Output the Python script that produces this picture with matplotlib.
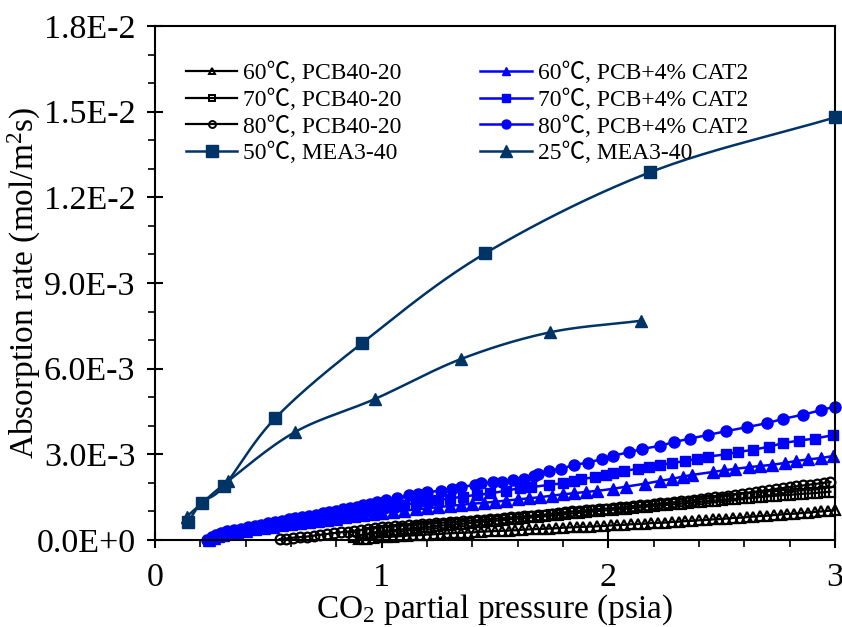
import numpy as np
import matplotlib
matplotlib.use("Agg")
import matplotlib.pyplot as plt
from matplotlib.ticker import FixedLocator, MultipleLocator
from matplotlib.lines import Line2D

plt.rcParams['font.family'] = ['Liberation Serif', 'Noto Sans CJK SC', 'DejaVu Serif']
plt.rcParams['mathtext.fontset'] = 'custom'
plt.rcParams['mathtext.rm'] = 'Liberation Serif'
plt.rcParams['mathtext.it'] = 'Liberation Serif:italic'

# ---------------- data (y in units of 1E-3 mol/m2s) ----------------
pcb_60_x = [0.90,0.93,0.96,0.99,1.02,1.05,1.08,1.11,1.14,1.17,1.20,1.23,1.26,1.29,1.32,1.35,1.38,1.41,1.44,1.47,
            1.50,1.53,1.56,1.59,1.62,1.65,1.68,1.71,1.74,1.77,1.80,1.83,1.86,1.89,1.92,1.95,1.98,2.01,2.04,2.07,
            2.10,2.13,2.16,2.19,2.22,2.25,2.28,2.31,2.34,2.37,2.40,2.43,2.46,2.49,2.52,2.55,2.58,2.61,2.64,2.67,
            2.70,2.73,2.76,2.79,2.82,2.85,2.88,2.91,2.94,2.97,3.00]
pcb_60_y = [0.03,0.05,0.07,0.09,0.10,0.12,0.13,0.15,0.16,0.17,0.19,0.20,0.21,0.23,0.24,0.25,0.26,0.27,0.29,0.30,
            0.31,0.32,0.33,0.34,0.36,0.37,0.38,0.39,0.40,0.41,0.43,0.44,0.45,0.46,0.47,0.48,0.49,0.51,0.52,0.53,
            0.55,0.56,0.57,0.59,0.60,0.61,0.63,0.64,0.66,0.67,0.69,0.70,0.72,0.73,0.75,0.77,0.78,0.80,0.82,0.84,
            0.85,0.87,0.89,0.91,0.92,0.94,0.96,0.98,1.00,1.02,1.04]

pcb_70_x = [0.88,0.91,0.94,0.97,1.00,1.03,1.06,1.09,1.12,1.15,1.18,1.21,1.24,1.27,1.30,1.33,1.36,1.39,1.42,1.45,
            1.48,1.51,1.54,1.57,1.60,1.63,1.66,1.69,1.72,1.75,1.78,1.81,1.84,1.87,1.90,1.93,1.96,1.99,2.02,2.05,
            2.08,2.11,2.14,2.17,2.20,2.23,2.26,2.29,2.32,2.35,2.38,2.41,2.44,2.47,2.50,2.53,2.56,2.59,2.62,2.65,
            2.68,2.71,2.74,2.77,2.80,2.83,2.86,2.89,2.92,2.95,2.98]
pcb_70_y = [0.12,0.18,0.23,0.27,0.30,0.33,0.35,0.37,0.40,0.42,0.44,0.46,0.49,0.51,0.53,0.55,0.57,0.59,0.62,0.64,
            0.66,0.68,0.70,0.73,0.75,0.77,0.79,0.81,0.83,0.86,0.88,0.90,0.93,0.95,0.98,1.00,1.02,1.04,1.06,1.08,
            1.10,1.12,1.14,1.17,1.19,1.21,1.23,1.25,1.27,1.29,1.32,1.34,1.36,1.38,1.40,1.42,1.44,1.46,1.48,1.49,
            1.51,1.53,1.55,1.57,1.58,1.60,1.62,1.63,1.65,1.67,1.69]

pcb_80_x = [0.55,0.58,0.61,0.64,0.67,0.70,0.73,0.76,0.79,0.82,0.85,0.88,0.91,0.94,0.97,1.00,1.03,1.06,1.09,1.12,
            1.15,1.18,1.21,1.24,1.27,1.30,1.33,1.36,1.39,1.42,1.45,1.48,1.51,1.54,1.57,1.60,1.63,1.66,1.69,1.72,
            1.75,1.78,1.81,1.84,1.87,1.90,1.93,1.96,1.99,2.02,2.05,2.08,2.11,2.14,2.17,2.20,2.23,2.26,2.29,2.32,
            2.35,2.38,2.41,2.44,2.47,2.50,2.53,2.56,2.59,2.62,2.65,2.68,2.71,2.74,2.77,2.80,2.83,2.86,2.89,2.92,
            2.95,2.98]
pcb_80_y = [0.03,0.05,0.08,0.10,0.12,0.15,0.18,0.21,0.24,0.27,0.29,0.32,0.35,0.38,0.41,0.44,0.46,0.48,0.50,0.51,
            0.53,0.55,0.57,0.59,0.61,0.62,0.64,0.66,0.68,0.69,0.71,0.73,0.75,0.77,0.79,0.81,0.83,0.85,0.87,0.89,
            0.92,0.95,0.97,1.00,1.02,1.04,1.06,1.08,1.10,1.12,1.14,1.17,1.19,1.21,1.23,1.25,1.28,1.30,1.32,1.35,
            1.37,1.40,1.43,1.46,1.49,1.52,1.55,1.59,1.62,1.66,1.69,1.72,1.75,1.79,1.82,1.85,1.88,1.91,1.94,1.97,
            2.00,2.03]

cat_60_x = [0.24,0.26,0.28,0.30,0.33,0.36,0.40,0.44,0.48,0.52,0.56,0.60,0.64,0.68,0.72,0.76,0.80,0.84,0.88,
            0.92,0.96,1.00,1.05,1.10,1.15,1.20,1.25,1.30,1.35,1.40,1.45,1.50,1.55,1.60,1.65,1.70,1.75,1.80,
            1.85,1.90,1.95,2.02,2.08,2.16,2.23,2.28,2.33,2.37,2.46,2.51,2.56,2.62,2.67,2.72,2.78,2.83,2.88,
            2.94,2.99]
cat_60_y = [0.00,0.08,0.14,0.19,0.24,0.28,0.33,0.38,0.42,0.47,0.51,0.55,0.59,0.63,0.67,0.71,0.75,0.79,0.83,
            0.87,0.91,0.95,0.99,1.03,1.07,1.11,1.15,1.19,1.23,1.27,1.30,1.34,1.38,1.42,1.46,1.50,1.55,1.60,
            1.64,1.68,1.72,1.79,1.87,1.97,2.07,2.14,2.22,2.28,2.38,2.44,2.49,2.55,2.59,2.63,2.70,2.77,2.82,
            2.87,2.94]

cat_70_x = [0.24,0.26,0.28,0.30,0.33,0.36,0.40,0.44,0.48,0.52,0.56,0.60,0.64,0.68,0.72,0.76,0.80,0.84,0.88,
            0.92,0.96,1.00,1.05,1.10,1.15,1.20,1.25,1.30,1.36,1.42,1.48,1.55,1.61,1.66,1.74,1.80,1.85,1.88,
            1.94,1.99,2.02,2.07,2.13,2.18,2.23,2.28,2.34,2.39,2.44,2.52,2.57,2.64,2.71,2.77,2.84,2.91,2.99]
cat_70_y = [0.00,0.10,0.17,0.22,0.27,0.31,0.36,0.41,0.46,0.51,0.56,0.61,0.66,0.71,0.76,0.81,0.86,0.91,0.96,
            1.01,1.06,1.11,1.17,1.23,1.29,1.35,1.40,1.45,1.52,1.58,1.63,1.73,1.81,1.85,1.93,1.99,2.07,2.13,
            2.20,2.27,2.33,2.42,2.49,2.55,2.63,2.69,2.77,2.84,2.92,3.00,3.08,3.16,3.27,3.39,3.48,3.55,3.67]

cat_80_x = [0.23,0.25,0.27,0.29,0.32,0.35,0.38,0.41,0.44,0.47,0.50,0.53,0.56,0.59,0.62,0.65,0.68,0.71,0.74,
            0.77,0.80,0.83,0.86,0.89,0.92,0.95,0.98,1.02,1.07,1.12,1.16,1.20,1.26,1.31,1.35,1.41,1.44,1.49,
            1.53,1.58,1.63,1.67,1.69,1.74,1.79,1.85,1.91,1.97,2.02,2.09,2.15,2.23,2.29,2.36,2.44,2.52,2.61,
            2.70,2.77,2.86,2.94,3.00]
cat_80_y = [0.00,0.10,0.18,0.24,0.30,0.35,0.40,0.45,0.50,0.54,0.59,0.63,0.67,0.72,0.76,0.80,0.85,0.89,0.93,
            0.98,1.02,1.07,1.12,1.17,1.22,1.27,1.32,1.39,1.47,1.56,1.62,1.67,1.73,1.78,1.85,1.93,1.98,2.02,
            2.04,2.10,2.15,2.24,2.31,2.43,2.49,2.63,2.71,2.83,2.95,3.07,3.19,3.30,3.43,3.55,3.68,3.81,3.95,
            4.09,4.24,4.39,4.55,4.67]

mea_50_x = [0.147, 0.206, 0.305, 0.53, 0.913, 1.457, 2.185, 3.0]
mea_50_y = [0.64, 1.31, 1.89, 4.26, 6.89, 10.04, 12.88, 14.80]

mea_25_x = [0.14, 0.324, 0.62, 0.971, 1.351, 1.741, 2.146]
mea_25_y = [0.82, 2.07, 3.79, 4.94, 6.34, 7.27, 7.68]

labels = ["60\u2103, PCB40-20", "70\u2103, PCB40-20", "80\u2103, PCB40-20", "50\u2103, MEA3-40",
          "60\u2103, PCB+4% CAT2", "70\u2103, PCB+4% CAT2", "80\u2103, PCB+4% CAT2", "25\u2103, MEA3-40"]

x_ticks = [0, 1, 2, 3]
x_tick_labels = ["0", "1", "2", "3"]
y_ticks = [0.0, 0.003, 0.006, 0.009, 0.012, 0.015, 0.018]
y_tick_labels = ["0.0E+0", "3.0E-3", "6.0E-3", "9.0E-3", "1.2E-2", "1.5E-2", "1.8E-2"]

SCALE = 1e-3


def smooth(x, y, n=24):
    """Catmull-Rom curve through the points (line rendering only)."""
    x = np.asarray(x, float); y = np.asarray(y, float)
    px = np.concatenate([[2 * x[0] - x[1]], x, [2 * x[-1] - x[-2]]])
    py = np.concatenate([[2 * y[0] - y[1]], y, [2 * y[-1] - y[-2]]])
    xs, ys = [], []
    t = np.linspace(0, 1, n, endpoint=False)
    for i in range(1, len(px) - 2):
        for P, out in ((px, xs), (py, ys)):
            p0, p1, p2, p3 = P[i - 1], P[i], P[i + 1], P[i + 2]
            out.extend(0.5 * (2 * p1 + (-p0 + p2) * t + (2 * p0 - 5 * p1 + 4 * p2 - p3) * t ** 2
                              + (-p0 + 3 * p1 - 3 * p2 + p3) * t ** 3))
    xs.append(x[-1]); ys.append(y[-1])
    return np.array(xs), np.array(ys)


fig = plt.figure(figsize=(8.42, 6.27), dpi=100)
ax = fig.add_axes([0.184, 0.1388, 0.8077, 0.8197])

navy = '#003366'
blue = '#0000FF'
blk = '#000000'

ax.plot(pcb_60_x, np.array(pcb_60_y) * SCALE, color=blk, lw=1.6, marker='^', ms=7,
        mfc='none', mec=blk, mew=1.6, clip_on=False)
ax.plot(pcb_70_x, np.array(pcb_70_y) * SCALE, color=blk, lw=1.6, marker='s', ms=6.5,
        mfc='none', mec=blk, mew=1.6, clip_on=False)
ax.plot(pcb_80_x, np.array(pcb_80_y) * SCALE, color=blk, lw=1.6, marker='o', ms=7,
        mfc='none', mec=blk, mew=1.6, clip_on=False)
ax.plot(cat_60_x, np.array(cat_60_y) * SCALE, color=blue, lw=1.8, marker='^', ms=8,
        mfc=blue, mec=blue, clip_on=False)
ax.plot(cat_70_x, np.array(cat_70_y) * SCALE, color=blue, lw=1.8, marker='s', ms=7.5,
        mfc=blue, mec=blue, clip_on=False)
ax.plot(cat_80_x, np.array(cat_80_y) * SCALE, color=blue, lw=1.8, marker='o', ms=8,
        mfc=blue, mec=blue, clip_on=False)

sx, sy = smooth(mea_50_x, np.array(mea_50_y) * SCALE)
ax.plot(sx, sy, color=navy, lw=1.8, clip_on=False)
ax.plot(mea_50_x, np.array(mea_50_y) * SCALE, ls='none', marker='s', ms=8, color=navy, clip_on=False, zorder=3)
sx, sy = smooth(mea_25_x, np.array(mea_25_y) * SCALE)
ax.plot(sx, sy, color=navy, lw=1.8, clip_on=False)
ax.plot(mea_25_x, np.array(mea_25_y) * SCALE, ls='none', marker='^', ms=8, color=navy, clip_on=False, zorder=3)

leg_small = dict(ms=5, mew=1.4)
lh = [Line2D([], [], color=blk, lw=1.6, marker='^', mfc='none', mec=blk, **leg_small),
      Line2D([], [], color=blk, lw=1.6, marker='s', mfc='none', mec=blk, **leg_small),
      Line2D([], [], color=blk, lw=1.6, marker='o', mfc='none', mec=blk, **leg_small),
      Line2D([], [], color=navy, lw=1.8, marker='s', ms=8),
      Line2D([], [], color=blue, lw=1.8, marker='^', ms=6),
      Line2D([], [], color=blue, lw=1.8, marker='s', ms=6),
      Line2D([], [], color=blue, lw=1.8, marker='o', ms=6.5),
      Line2D([], [], color=navy, lw=1.8, marker='^', ms=8)]

ax.set_xlim(0, 3)
ax.set_ylim(0, 0.018)
ax.xaxis.set_major_locator(FixedLocator(x_ticks))
ax.set_xticklabels(x_tick_labels)
ax.xaxis.set_minor_locator(MultipleLocator(0.2))
ax.yaxis.set_major_locator(FixedLocator(y_ticks))
ax.set_yticklabels(y_tick_labels)
ax.yaxis.set_minor_locator(MultipleLocator(0.001))

ax.tick_params(which='major', direction='inout', length=12, width=1.5, labelsize=24.5, pad=8,
               top=False, right=False)
ax.tick_params(which='minor', direction='out', length=5, width=1.2, top=False, right=False)
ax.tick_params(axis='x', which='major', pad=10)
for s in ax.spines.values():
    s.set_linewidth(1.5)

ax.set_xlabel("CO$_2$ partial pressure (psia)", fontsize=24, labelpad=0)
ax.set_ylabel("Absorption rate (mol/m$^2$s)", fontsize=24)
ax.yaxis.set_label_coords(-0.164, 0.5)

ax.legend(lh, labels, ncol=2, loc='upper left',
          bbox_to_anchor=(0.045, 0.930), frameon=False, fontsize=17, handlelength=2.2,
          handletextpad=0.25, labelspacing=0.18, columnspacing=3.3, borderpad=0,
          borderaxespad=0)

fig.savefig("out.png", dpi=100)
